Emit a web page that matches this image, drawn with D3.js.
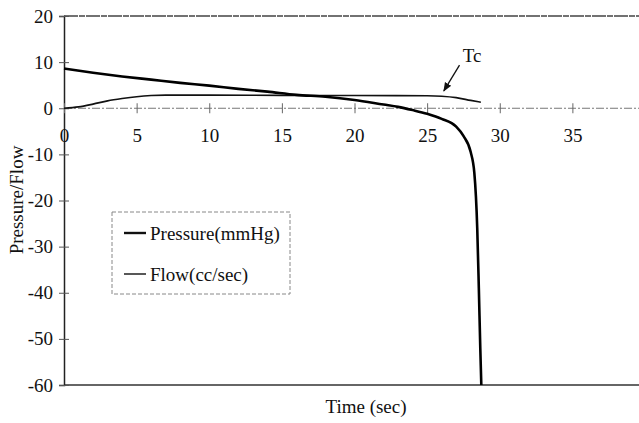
<!DOCTYPE html>
<html>
<head>
<meta charset="utf-8">
<script src="https://cdn.jsdelivr.net/npm/d3@7"></script>
<style>
  body { margin: 0; background: #fff; }
  text { font-family: "Liberation Serif", "DejaVu Serif", serif; fill: #111; }
</style>
</head>
<body>
<svg id="chart"></svg>
<script>
var w = 639;
var h = 423;

// data
var pressureTime = [0, 2, 4, 6, 8, 10, 12, 14, 16, 18, 20, 22, 23, 24, 25, 26, 27, 27.5, 28, 28.25, 28.45, 28.56, 28.66, 28.73];
var pressure = [8.6, 7.7, 6.9, 6.2, 5.5, 4.9, 4.2, 3.6, 2.9, 2.5, 1.8, 0.8, 0.3, -0.4, -1.2, -2.3, -4.0, -6.0, -9.5, -14, -26, -39, -52, -60];
var flowTime = [0, 1, 2, 3, 4, 5, 6, 7, 10, 15, 20, 25, 26, 27, 28, 28.7];
var flow = [0, 0.3, 0.9, 1.6, 2.1, 2.5, 2.75, 2.85, 2.85, 2.8, 2.75, 2.7, 2.6, 2.3, 1.7, 1.3];
var xTicks = [0, 5, 10, 15, 20, 25, 30, 35];
var yTicks = [-60, -50, -40, -30, -20, -10, 0, 10, 20];
var seriesNames = ['Pressure(mmHg)', 'Flow(cc/sec)'];

var padL = 64, padT = 16, padR = 645, padB = 385;
var fs = '19px';

var svg = d3.select('#chart').attr('width', w).attr('height', h);

var x = d3.scaleLinear().domain([0, 40]).range([padL, padR]);
var y = d3.scaleLinear().domain([-60, 20]).range([padB, padT]);

// frame
svg.append('line')
  .attr('x1', padL).attr('x2', w).attr('y1', padT).attr('y2', padT)
  .attr('stroke', '#444').attr('stroke-width', 1.5).attr('stroke-dasharray', '14,1,6,1');
svg.append('line')
  .attr('x1', padL).attr('x2', w).attr('y1', padB).attr('y2', padB)
  .attr('stroke', '#333').attr('stroke-width', 1.5);

// zero line
svg.append('line')
  .attr('x1', padL).attr('x2', w).attr('y1', y(0)).attr('y2', y(0))
  .attr('stroke', '#777').attr('stroke-width', 1).attr('stroke-dasharray', '8,2,2,2');

// y axis
var yAxis = d3.axisLeft(y).tickValues(yTicks).tickSize(5).tickPadding(6)
  .tickFormat(function (d) { return String(d); });
var gy = svg.append('g').attr('transform', 'translate(' + padL + ',0)').call(yAxis);
gy.select('.domain').attr('stroke', '#222').attr('stroke-width', 1.5);
gy.selectAll('.tick line').attr('x2', 5).attr('x1', -5).attr('stroke', '#555');
gy.selectAll('.tick text')
  .attr('font-size', fs).attr('font-family', '"Liberation Serif", serif').attr('fill', '#111');

// x axis on the zero line
var xAxis = d3.axisBottom(x).tickValues(xTicks).tickSize(5).tickPadding(15)
  .tickFormat(function (d) { return String(d); });
var gx = svg.append('g').attr('transform', 'translate(0,' + y(0) + ')').call(xAxis);
gx.select('.domain').remove();
gx.selectAll('.tick line').attr('y1', -5).attr('y2', 5).attr('stroke', '#666');
gx.selectAll('.tick text')
  .attr('font-size', fs).attr('font-family', '"Liberation Serif", serif').attr('fill', '#111');

// lines
var line = d3.line()
  .x(function (d) { return x(d[0]); })
  .y(function (d) { return y(d[1]); })
  .curve(d3.curveMonotoneX);

svg.append('path')
  .datum(flowTime.map(function (t, i) { return [t, flow[i]]; }))
  .attr('d', line)
  .attr('fill', 'none').attr('stroke', '#111').attr('stroke-width', 1.6);

svg.append('path')
  .datum(pressureTime.map(function (t, i) { return [t, pressure[i]]; }))
  .attr('d', line)
  .attr('fill', 'none').attr('stroke', '#000').attr('stroke-width', 2.6);

// Tc annotation
svg.append('defs').append('marker')
  .attr('id', 'arrow').attr('viewBox', '0 0 10 10')
  .attr('refX', 9).attr('refY', 5)
  .attr('markerWidth', 7).attr('markerHeight', 7)
  .attr('orient', 'auto')
  .append('path').attr('d', 'M0,1 L10,5 L0,9 Z').attr('fill', '#111');

svg.append('line')
  .attr('x1', x(27.23)).attr('y1', y(9.35))
  .attr('x2', x(26.15)).attr('y2', y(3.76))
  .attr('stroke', '#111').attr('stroke-width', 1.3)
  .attr('marker-end', 'url(#arrow)');

svg.append('text')
  .attr('x', x(28.1)).attr('y', y(10.0))
  .attr('text-anchor', 'middle').attr('font-size', fs)
  .text('Tc');

// legend
var legend = svg.append('g');
legend.append('rect')
  .attr('x', 112).attr('y', 212).attr('width', 178).attr('height', 82)
  .attr('fill', '#fff').attr('stroke', '#888').attr('stroke-width', 1)
  .attr('stroke-dasharray', '4,2');

var legendItems = legend.selectAll('g.item')
  .data(seriesNames)
  .enter()
  .append('g')
  .attr('class', 'item')
  .attr('transform', function (d, i) { return 'translate(124,' + (233 + i * 41) + ')'; });

legendItems.append('line')
  .attr('x1', 0).attr('x2', 22).attr('y1', 0).attr('y2', 0)
  .attr('stroke', '#111')
  .attr('stroke-width', function (d, i) { return i === 0 ? 2.4 : 1.4; });

legendItems.append('text')
  .attr('x', 26).attr('y', 7)
  .attr('font-size', fs)
  .text(function (d) { return d; });

// axis titles
svg.append('text')
  .attr('x', 366).attr('y', 413)
  .attr('text-anchor', 'middle').attr('font-size', fs)
  .text('Time (sec)');

svg.append('text')
  .attr('transform', 'translate(23,200) rotate(-90)')
  .attr('text-anchor', 'middle').attr('font-size', fs)
  .text('Pressure/Flow');
</script>
</body>
</html>
